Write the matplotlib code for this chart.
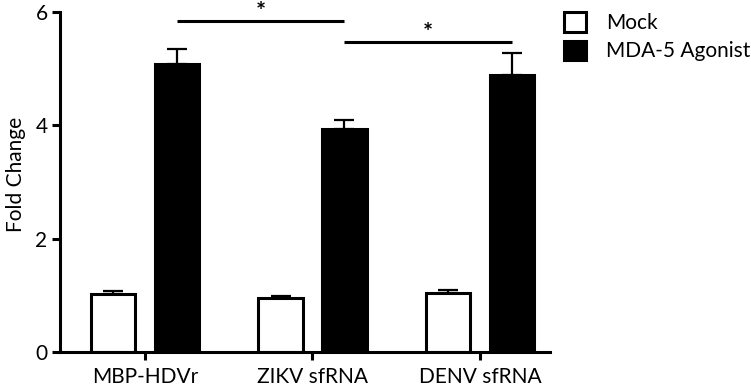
import numpy as np
import matplotlib
matplotlib.use('Agg')
import matplotlib.pyplot as plt
from matplotlib.patches import Patch

plt.rcParams['font.family'] = ['Lato', 'DejaVu Sans']

groups = ['MBP-HDVr', 'ZIKV sfRNA', 'DENV sfRNA']
mock = [1.02, 0.955, 1.05]
mock_err = [0.05, 0.03, 0.05]
agonist = [5.08, 3.94, 4.89]
agonist_err = [0.27, 0.15, 0.39]
series_labels = ['Mock', 'MDA-5 Agonist']

# significance brackets: (group a, group b, height)
sig = [(0, 1, 5.85), (1, 2, 5.47)]

lw = 2.2
x = np.arange(len(groups))
w = 0.265
off = 0.19

fig = plt.figure(figsize=(7.51, 3.9), dpi=100)
ax = fig.add_axes([0.0799, 0.0974, 0.6525, 0.8718])

ax.bar(x - off, mock, w, color='white', edgecolor='black', linewidth=lw,
       yerr=[np.zeros(3), mock_err], capsize=7.5,
       error_kw=dict(elinewidth=1.6, capthick=1.6, ecolor='black'), zorder=2)
ax.bar(x + off, agonist, w, color='black', edgecolor='black', linewidth=lw,
       yerr=[np.zeros(3), agonist_err], capsize=7.5,
       error_kw=dict(elinewidth=1.6, capthick=1.6, ecolor='black'), zorder=2)

for a, b, h in sig:
    ax.plot([x[a] + off, x[b] + off], [h, h], color='black', lw=lw,
            solid_capstyle='butt', clip_on=False)
    ax.text((x[a] + x[b]) / 2 + off, h + 0.01, '*', ha='center',
            va='baseline', fontsize=17, fontweight='bold')

ax.set_xlim(-0.507, 2.418)
ax.set_ylim(0, 6)
ax.set_yticks([0, 2, 4, 6])
ax.set_xticks(x)
ax.set_xticklabels(groups)
ax.set_ylabel('Fold Change', fontsize=15)
ax.yaxis.set_label_coords(-0.07, 0.523)

for s in ['top', 'right']:
    ax.spines[s].set_visible(False)
for s in ['left', 'bottom']:
    ax.spines[s].set_linewidth(lw)
ax.tick_params(axis='both', width=lw, length=6, labelsize=15)
ax.tick_params(axis='x', pad=5)
ax.tick_params(axis='y', pad=3)

handles = [Patch(facecolor='white', edgecolor='black', linewidth=lw),
           Patch(facecolor='black', edgecolor='black', linewidth=lw)]
fig.legend(handles, series_labels, loc='upper left',
           bbox_to_anchor=(0.751, 0.968), frameon=False, fontsize=15,
           handlelength=1.05, handleheight=1.05, handletextpad=0.95,
           labelspacing=0.35, borderpad=0, borderaxespad=0)

fig.savefig('out.png', dpi=100)
